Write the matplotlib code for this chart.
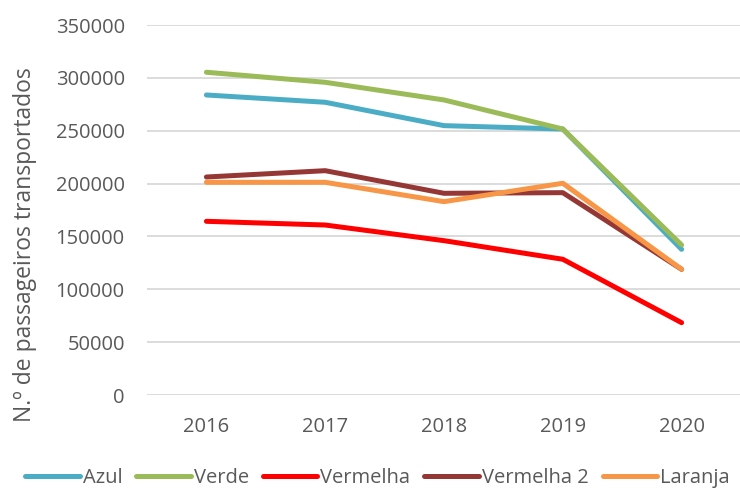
import matplotlib
matplotlib.use("Agg")
import matplotlib.pyplot as plt

years = ["2016", "2017", "2018", "2019", "2020"]
azul = [283800, 276900, 254800, 251600, 137800]
verde = [305300, 295800, 279100, 251600, 141900]
vermelha = [164300, 160800, 146000, 128400, 68400]
vermelha2 = [206200, 212200, 190800, 191400, 118900]
laranja = [201200, 201200, 182900, 200300, 118900]

series = [
    ("Azul", azul, "#4bacc6"),
    ("Verde", verde, "#9bbb59"),
    ("Vermelha", vermelha, "#ff0000"),
    ("Vermelha 2", vermelha2, "#953735"),
    ("Laranja", laranja, "#f79646"),
]

plt.rcParams['font.family'] = ['Open Sans', 'DejaVu Sans']
txt = "#595959"

fig = plt.figure(figsize=(7.4, 4.9), dpi=100)
ax = fig.add_axes([147/740, 1-395/490, 594/740, 370/490])

x = list(range(len(years)))
for name, vals, col in series:
    ax.plot(x, vals, color=col, lw=3.6, label=name, solid_capstyle='round', solid_joinstyle='round')

ax.set_xlim(-0.5, len(years)-0.5)
ax.set_ylim(0, 350000)
ax.set_yticks(range(0, 350001, 50000))
ax.set_yticklabels([str(v) for v in range(0, 350001, 50000)])
ax.set_xticks(x)
ax.set_xticklabels(years)
ax.tick_params(axis='both', length=0, labelsize=14.5, colors=txt, pad=16)
ax.yaxis.grid(True, color="#d9d9d9", lw=1.3)
ax.set_axisbelow(True)
for s in ax.spines.values():
    s.set_visible(False)
ax.set_ylabel("N.º de passageiros transportados", fontsize=16.5, color=txt)
ax.yaxis.set_label_coords(-0.185, (395-244.5)/370)

leg = fig.legend(loc='center', bbox_to_anchor=(0.51, 1-478/490), ncol=5, frameon=False,
                 fontsize=14.5, handlelength=2.7, handletextpad=0.15, columnspacing=0.7,
                 borderaxespad=0)
for t in leg.get_texts():
    t.set_color(txt)

fig.savefig("out.png", dpi=100)
